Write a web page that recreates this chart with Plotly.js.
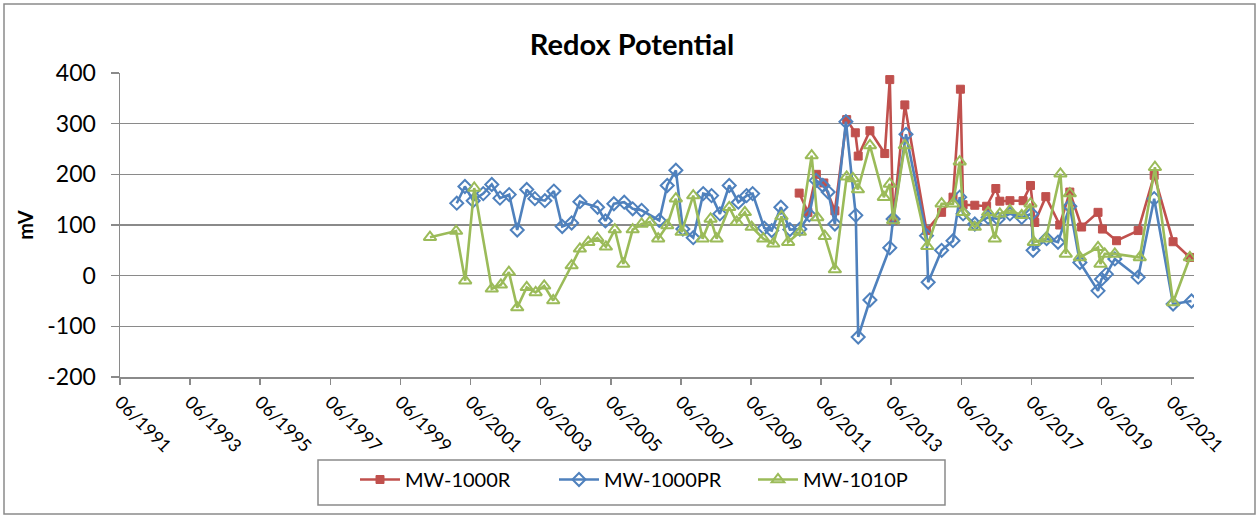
<!DOCTYPE html>
<html>
<head>
<meta charset="utf-8">
<script src="https://cdn.plot.ly/plotly-3.0.1.min.js"></script>
<style>
html,body{margin:0;padding:0;background:#fff;}
#chart{width:1259px;height:518px;}
</style>
</head>
<body>
<div id="chart"></div>
<script>
// MW-1000R
const redDates = ["2010-10-16","2011-01-15","2011-04-13","2011-06-30","2011-10-23","2012-02-23","2012-05-23","2012-06-22","2012-10-22","2013-03-26","2013-05-17","2013-06-21","2013-10-21","2014-06-04","2014-11-08","2015-03-07","2015-05-23","2015-06-20","2015-10-20","2016-02-20","2016-05-26","2016-07-07","2016-10-20","2017-03-06","2017-05-22","2017-07-06","2017-10-29","2018-03-23","2018-07-06","2018-11-06","2019-04-26","2019-06-11","2019-11-05","2020-06-17","2020-12-01","2021-06-16","2021-12-08"];
const redValues = [163,125,200,183,128,308,282,236,286,241,387,109,337,89,125,155,368,140,139,137,172,147,148,148,178,105,156,100,165,96,125,92,69,89,198,67,36];

// MW-1000PR
const blueDates = ["2001-01-08","2001-04-03","2001-06-28","2001-10-11","2002-01-08","2002-04-03","2002-07-08","2002-09-30","2003-01-07","2003-04-02","2003-07-15","2003-10-17","2004-01-12","2004-04-19","2004-07-14","2005-01-14","2005-04-06","2005-07-03","2005-10-19","2006-01-15","2006-04-18","2006-10-19","2007-01-10","2007-04-10","2007-06-22","2007-10-08","2008-01-20","2008-04-16","2008-07-12","2008-10-17","2009-01-20","2009-04-16","2009-06-18","2009-10-17","2010-01-03","2010-04-08","2010-07-11","2010-10-23","2011-01-29","2011-04-11","2011-06-19","2011-08-14","2011-10-23","2012-02-15","2012-05-28","2012-06-22","2012-10-22","2013-05-17","2013-06-21","2013-11-02","2014-06-04","2014-06-21","2014-11-08","2015-03-07","2015-05-16","2015-06-20","2015-10-20","2016-03-07","2016-06-19","2016-10-20","2017-02-20","2017-06-02","2017-06-18","2017-11-06","2018-03-05","2018-07-06","2018-10-19","2019-04-26","2019-06-01","2019-07-22","2019-10-18","2020-06-17","2020-12-01","2021-06-16","2021-12-25"];
const blueValues = [143,176,148,162,180,153,160,90,170,152,148,167,97,104,146,135,108,142,145,132,129,109,178,208,92,75,162,158,122,178,145,158,162,94,89,135,91,92,120,188,178,165,102,304,119,-121,-48,55,112,279,79,-13,50,69,155,122,102,115,112,122,115,122,50,73,66,137,26,-30,-7,3,33,-3,152,-56,-50];

// MW-1010P
const greenDates = ["2000-04-04","2001-01-01","2001-04-06","2001-07-09","2002-01-08","2002-04-13","2002-07-05","2002-09-30","2003-01-07","2003-04-10","2003-07-08","2003-10-10","2004-04-19","2004-07-14","2004-10-10","2005-01-12","2005-04-11","2005-07-13","2005-10-09","2006-01-15","2006-04-18","2006-07-13","2006-10-08","2007-01-10","2007-04-10","2007-06-09","2007-10-08","2008-01-14","2008-04-06","2008-06-08","2008-10-17","2009-01-03","2009-03-29","2009-06-08","2009-10-07","2010-01-19","2010-04-15","2010-06-23","2010-10-23","2011-02-23","2011-04-23","2011-07-10","2011-10-23","2012-02-23","2012-04-28","2012-06-19","2012-10-22","2013-03-16","2013-05-17","2013-06-21","2013-10-21","2014-06-12","2014-11-08","2015-03-07","2015-05-16","2015-06-20","2015-10-20","2016-03-07","2016-05-15","2016-07-07","2016-10-20","2017-02-20","2017-05-22","2017-06-26","2017-10-29","2018-03-30","2018-05-25","2018-07-06","2018-10-19","2019-04-26","2019-05-21","2019-07-05","2019-10-18","2020-07-04","2020-12-09","2021-06-16","2021-12-08"];
const greenValues = [76,88,-10,173,-26,-18,7,-63,-23,-33,-20,-49,20,53,66,74,57,91,23,91,102,106,73,99,152,86,158,73,112,73,135,106,125,96,73,63,117,66,86,237,115,78,12,195,192,170,257,155,181,109,257,58,142,142,225,125,96,125,73,122,129,119,142,66,73,201,43,162,36,56,23,43,43,36,214,-53,36];

const xTickVals = ["1991-06-01","1993-06-01","1995-06-01","1997-06-01","1999-06-01","2001-06-01","2003-06-01","2005-06-01","2007-06-01","2009-06-01","2011-06-01","2013-06-01","2015-06-01","2017-06-01","2019-06-01","2021-06-01"];
const xTickText = ["06/1991","06/1993","06/1995","06/1997","06/1999","06/2001","06/2003","06/2005","06/2007","06/2009","06/2011","06/2013","06/2015","06/2017","06/2019","06/2021"];
const yTickVals = [-200,-100,0,100,200,300,400];
const yTickText = ["-200","-100","0","100","200","300","400"];

const FONT = "Lato, 'Open Sans', sans-serif";
const traces = [
  {name:"MW-1000R", x:redDates, y:redValues, type:"scatter", mode:"lines+markers",
   line:{color:"#C0504D", width:2.6},
   marker:{symbol:"square", size:8, color:"#C0504D", line:{color:"#C0504D", width:1}}},
  {name:"MW-1000PR", x:blueDates, y:blueValues, type:"scatter", mode:"lines+markers",
   line:{color:"#4F81BD", width:2.6},
   marker:{symbol:"diamond-open", size:10, color:"#4F81BD", line:{color:"#4F81BD", width:2}}},
  {name:"MW-1010P", x:greenDates, y:greenValues, type:"scatter", mode:"lines+markers",
   line:{color:"#9BBB59", width:2.6},
   marker:{symbol:"triangle-up-open", size:11, color:"#9BBB59", line:{color:"#9BBB59", width:2}}}
];

// plot area in pixels: x 120..1194, y 73..377
const PX = x => (x - 120) / 1074;
const PY = y => (377 - y) / 304;

const layout = {
  width:1259, height:518,
  margin:{l:120, r:65, t:73, b:141},
  paper_bgcolor:"#fff", plot_bgcolor:"#fff",
  font:{family:FONT, color:"#000"},
  title:{text:"<b>Redox Potential</b>", font:{family:FONT, size:29, color:"#000"},
         x:0.502, xref:"container", y:0.913, yref:"container", xanchor:"center", yanchor:"middle"},
  xaxis:{type:"date", range:["1991-06-01","2022-01-20"], tickmode:"array",
         tickvals:xTickVals, ticktext:xTickText, tickangle:45,
         showgrid:false, zeroline:false, showline:true, linecolor:"#8a8a8a", linewidth:1.5,
         ticks:"outside", ticklen:6, tickcolor:"#8a8a8a", tickwidth:1.5,
         tickfont:{family:FONT, size:18, color:"#000"}},
  yaxis:{range:[-200,400], tickmode:"array", tickvals:yTickVals, ticktext:yTickText,
         showgrid:true, gridcolor:"#8a8a8a", gridwidth:1.5,
         zeroline:false, showline:true, linecolor:"#8a8a8a", linewidth:1.5,
         ticks:"outside", ticklen:8, tickcolor:"#8a8a8a", tickwidth:1.5,
         ticklabelstandoff:10,
         tickfont:{family:FONT, size:23, color:"#000"},
         title:{text:"<b>mV</b>", font:{family:FONT, size:20, color:"#000"}, standoff:8}},
  showlegend:true,
  legend:{orientation:"h", xref:"container", yref:"container", x:328/1259, y:1-460/518,
          xanchor:"left", yanchor:"top", borderwidth:0, bgcolor:"rgba(0,0,0,0)",
          font:{family:FONT, size:20, color:"#000"}, entrywidth:117, itemwidth:40,
          indentation:27, traceorder:"normal"},
  shapes:[
    {type:"rect", xref:"paper", yref:"paper",
     x0:PX(4), x1:PX(1255), y0:PY(514), y1:PY(4),
     line:{color:"#8a8a8a", width:1.5}, fillcolor:"rgba(0,0,0,0)", layer:"below"},
    {type:"rect", xref:"paper", yref:"paper",
     x0:PX(318), x1:PX(945), y0:PY(505), y1:PY(460),
     line:{color:"#8a8a8a", width:1.5}, fillcolor:"rgba(0,0,0,0)", layer:"below"}
  ]
};

Plotly.newPlot("chart", traces, layout, {staticPlot:true, displayModeBar:false});
</script>
</body>
</html>
